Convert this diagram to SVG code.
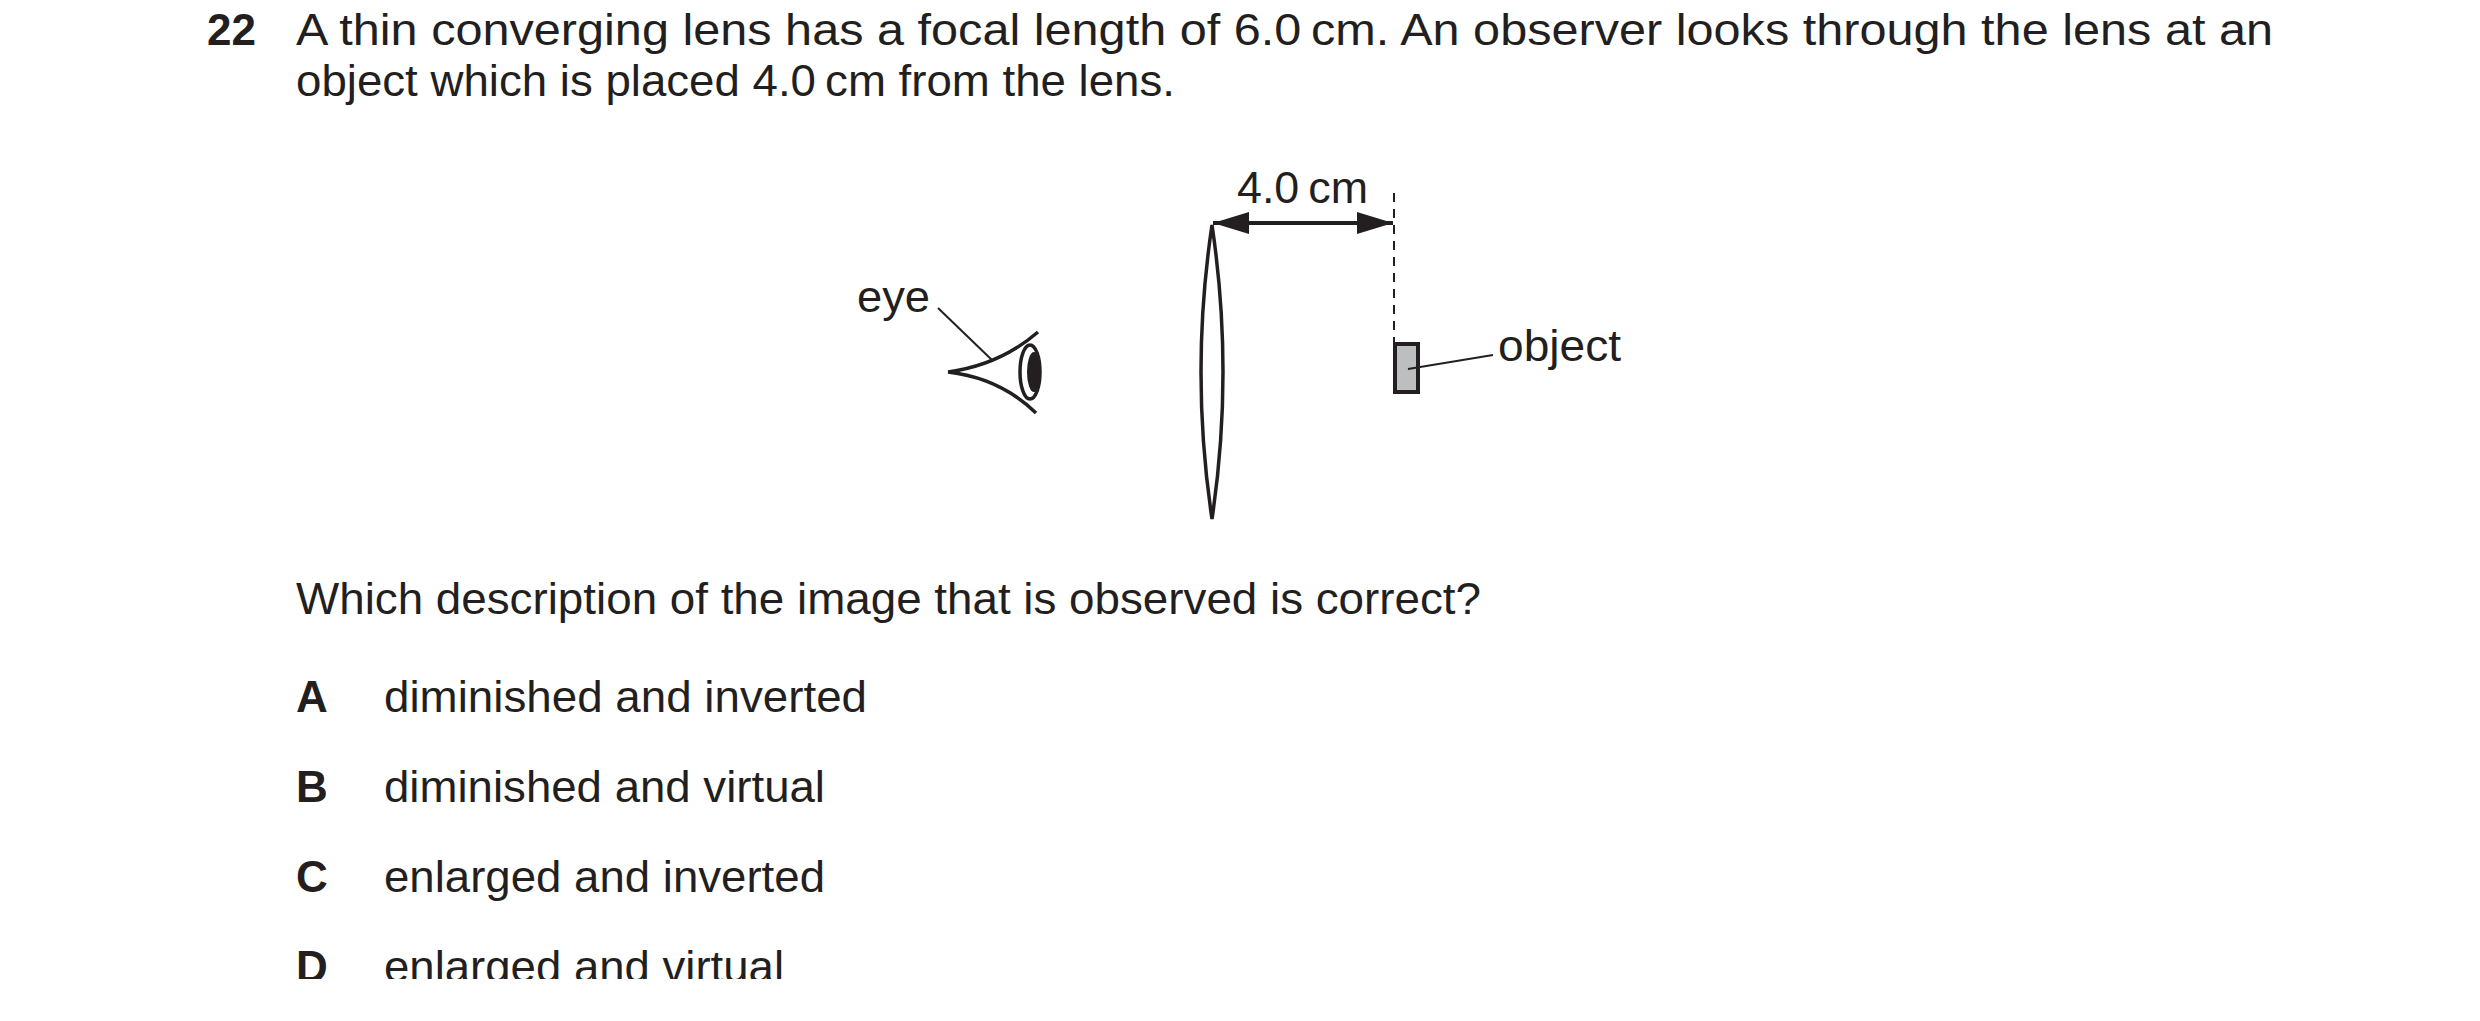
<svg xmlns="http://www.w3.org/2000/svg" width="2480" height="1021" viewBox="0 0 2480 1021">
<style>
text{font-family:"Liberation Sans",Arial,sans-serif;font-size:44px;fill:#231f20}
.b{font-weight:bold}
.s{fill:none;stroke:#231f20;stroke-width:3.5}
.t{fill:none;stroke:#231f20;stroke-width:2}
</style>
<defs>
<marker id="ah" viewBox="0 0 36 22" refX="36" refY="11" markerWidth="36" markerHeight="22" markerUnits="userSpaceOnUse" orient="auto-start-reverse"><path d="M0,0L36,11L0,22z" fill="#231f20"/></marker>
<clipPath id="cp"><rect x="0" y="0" width="2480" height="979"/></clipPath>
</defs>
<rect width="2480" height="1021" fill="#fff"/>
<g id="question">
<text x="207" y="45" class="b">22</text>
<text x="296" y="45" textLength="1977" lengthAdjust="spacingAndGlyphs">A thin converging lens has a focal length of 6.0&#8201;cm. An observer looks through the lens at an</text>
<text x="296" y="96" textLength="879" lengthAdjust="spacingAndGlyphs">object which is placed 4.0&#8201;cm from the lens.</text>
</g>
<g id="eye">
<text x="857" y="312" textLength="73" lengthAdjust="spacingAndGlyphs">eye</text>
<path class="s" d="M948,372 Q1000,365 1038,332 M948,372 Q1000,378 1036,413"/>
<ellipse cx="1030" cy="372" rx="10" ry="27" class="s" stroke-width="3"/>
<ellipse cx="1034" cy="372" rx="7" ry="20" fill="#231f20"/>
</g>
<g id="lens">
<path class="s" d="M1212,225 Q1190,372 1212,519 Q1234,372 1212,225z"/>
</g>
<g id="object">
<rect x="1395" y="344" width="23" height="48" fill="#bcbec0" stroke="#231f20" stroke-width="4"/>
<text x="1498" y="361" textLength="123" lengthAdjust="spacingAndGlyphs">object</text>
</g>
<g id="connectors">
<line class="t" x1="938" y1="308" x2="993" y2="361"/>
<line class="t" x1="1408" y1="369" x2="1493" y2="355"/>
<line class="t" x1="1394" y1="193" x2="1394" y2="344" stroke-dasharray="9,7"/>
<line x1="1213" y1="223" x2="1393" y2="223" stroke="#231f20" stroke-width="4" marker-start="url(#ah)" marker-end="url(#ah)"/>
<text x="1237" y="203" textLength="131" lengthAdjust="spacingAndGlyphs">4.0&#8201;cm</text>
</g>
<g id="options" clip-path="url(#cp)">
<text x="296" y="614" textLength="1185" lengthAdjust="spacingAndGlyphs">Which description of the image that is observed is correct?</text>
<text x="296" y="712" class="b">A</text><text x="384" y="712" textLength="483" lengthAdjust="spacingAndGlyphs">diminished and inverted</text>
<text x="296" y="802" class="b">B</text><text x="384" y="802" textLength="441" lengthAdjust="spacingAndGlyphs">diminished and virtual</text>
<text x="296" y="892" class="b">C</text><text x="384" y="892" textLength="441" lengthAdjust="spacingAndGlyphs">enlarged and inverted</text>
<text x="296" y="982" class="b">D</text><text x="384" y="982" textLength="400" lengthAdjust="spacingAndGlyphs">enlarged and virtual</text>
</g>
</svg>
